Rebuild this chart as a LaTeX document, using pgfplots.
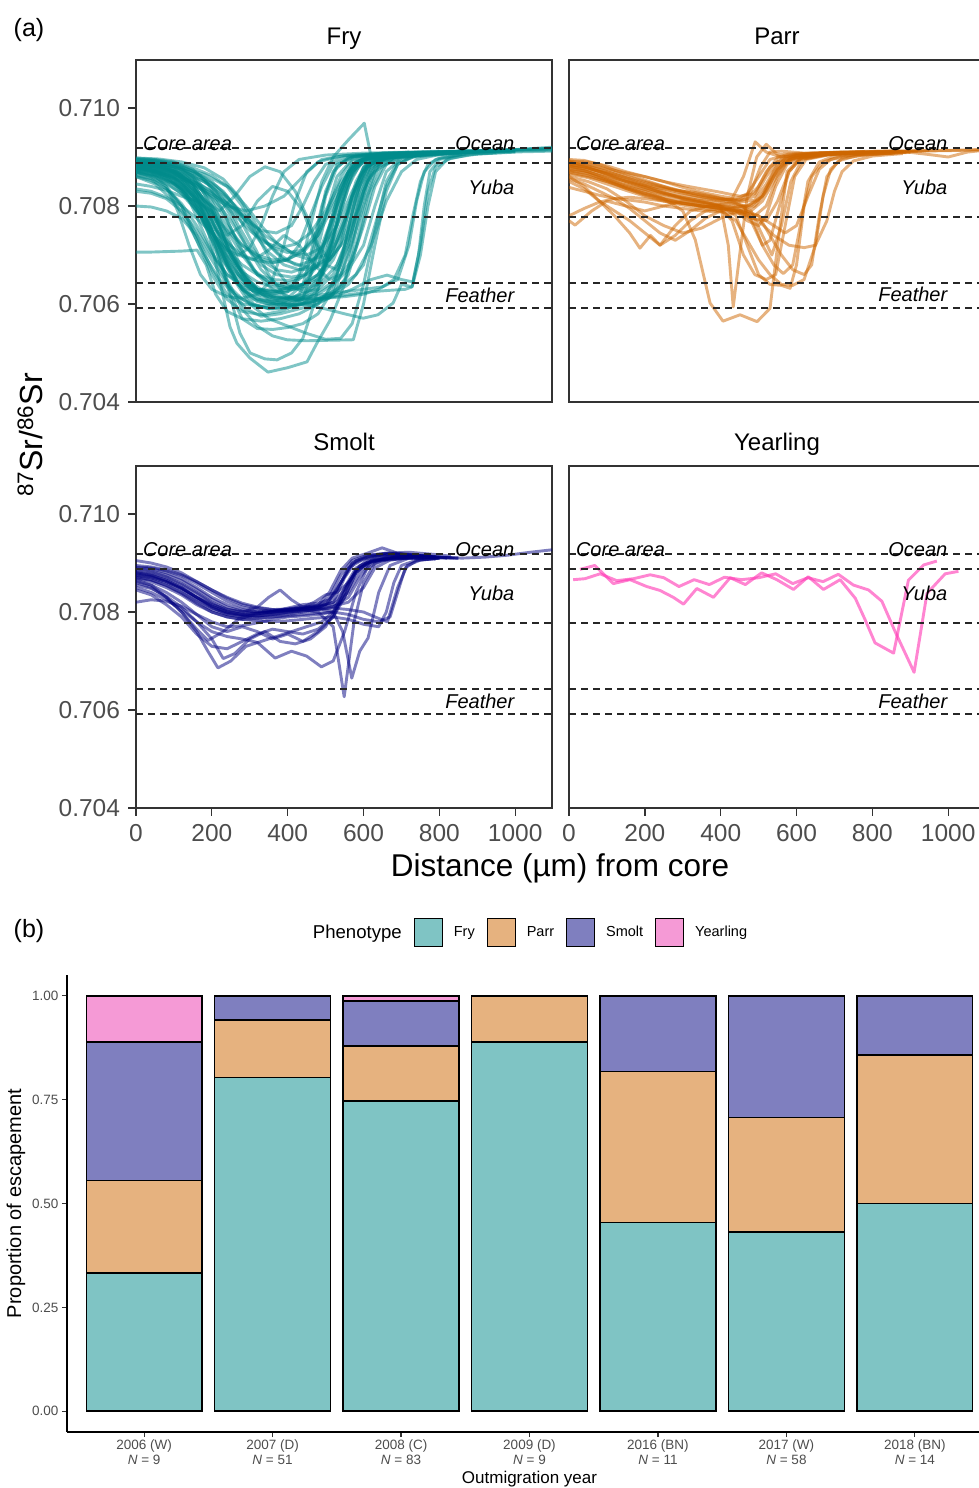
\documentclass[border=0pt]{standalone}
\usepackage{fontspec}
\setmainfont{Liberation Sans}
\usepackage{pgfplots}
\pgfplotsset{compat=1.18}

\definecolor{frycol}{HTML}{008B8B}
\definecolor{parrcol}{HTML}{CD6600}
\definecolor{smoltcol}{HTML}{000080}
\definecolor{yearcol}{HTML}{FF34B3}
\definecolor{fryfill}{HTML}{7FC4C4}
\definecolor{parrfill}{HTML}{E6B27F}
\definecolor{smoltfill}{HTML}{7F7FBF}
\definecolor{yearfill}{HTML}{F59AD6}
\definecolor{grey30}{HTML}{4D4D4D}
\definecolor{grey20}{HTML}{333333}

\newcommand\fs[1]{\fontsize{#1}{#1}\selectfont}

\pgfplotsset{
  srpanel/.style={
    scale only axis, width=416pt, height=342pt,
    xmin=0, xmax=1097, ymin=0.704, ymax=0.71098,
    axis line style={grey20, line width=1.3pt},
    tick style={grey20, line width=1.3pt},
    major tick length=7.5pt, tick align=outside,
    xtick pos=bottom, ytick pos=left,
    ytick={0.704,0.706,0.708,0.710},
    yticklabels={0.704,0.706,0.708,0.710},
    xtick={0,200,400,600,800,1000},
    xticklabels={0,200,400,600,800,1000},
    ticklabel style={font=\fs{24.5}, text=grey30},
    yticklabel style={xshift=-5pt},
    xticklabel style={yshift=-5pt},
    title style={font=\fs{24}, anchor=base, at={(0.5,1)}, yshift=10pt},
    clip mode=individual,
  },
  notopx/.style={xtick=\empty},
  noy/.style={ytick=\empty},
  refl/.style={black!85, line width=1.5pt, dash pattern=on 7pt off 5pt},
  fryln/.style={frycol, line width=2.9pt, opacity=0.5, line join=round},
  parrln/.style={parrcol, line width=2.9pt, opacity=0.5, line join=round},
  smoltln/.style={smoltcol, line width=2.9pt, opacity=0.5, line join=round},
  yearln/.style={yearcol, line width=2.9pt, opacity=0.6, line join=round},
  keybox/.style={legend image code/.code={\draw[##1, line width=1pt] (0pt,-14pt) rectangle (28pt,14pt);}},
}

% reference isotope bands and their labels
\newcommand\refs{%
  \addplot[refl] coordinates {(0,0.70918)(1097,0.70918)};
  \addplot[refl] coordinates {(0,0.70888)(1097,0.70888)};
  \addplot[refl] coordinates {(0,0.70778)(1097,0.70778)};
  \addplot[refl] coordinates {(0,0.70643)(1097,0.70643)};
  \addplot[refl] coordinates {(0,0.70592)(1097,0.70592)};
  \node[anchor=base west, inner sep=0pt, font=\fs{20}\itshape] at (axis cs:18,0.70914) {Core area};
  \node[anchor=base east, inner sep=0pt, font=\fs{20}\itshape] at (axis cs:998,0.70914) {Ocean};
  \node[anchor=base east, inner sep=0pt, font=\fs{20}\itshape] at (axis cs:998,0.708245) {Yuba};
  \node[anchor=base east, inner sep=0pt, font=\fs{20}\itshape] at (axis cs:998,0.706041) {Feather};
}

\begin{document}
\begin{tikzpicture}
\path[use as bounding box] (0,0) rectangle (979pt,-1488pt);

% ---------------- Fry ----------------
\begin{axis}[srpanel, notopx, at={(136pt,-402pt)}, anchor=south west, title={Fry}]
\addplot[fryln] coordinates {(0,.70890)(40,.70888)(80,.70880)(120,.70862)(160,.70820)(200,.70750)(240,.70680)(280,.70630)(320,.70610)(360,.70605)(400,.70612)(440,.70640)(470,.70720)(500,.70830)(530,.70885)(580,.70902)(650,.70908)(750,.70910)(850,.70912)(950,.70914)(1050,.70915)(1097,.70916)};
\addplot[fryln] coordinates {(0,.70885)(50,.70880)(100,.70868)(150,.70840)(190,.70790)(230,.70710)(270,.70640)(310,.70600)(350,.70590)(400,.70595)(450,.70600)(500,.70615)(540,.70680)(570,.70790)(600,.70870)(640,.70900)(720,.70908)(820,.70910)(920,.70912)};
\addplot[fryln] coordinates {(0,.70878)(40,.70872)(90,.70858)(130,.70830)(170,.70760)(210,.70690)(250,.70630)(290,.70590)(330,.70575)(380,.70580)(430,.70590)(480,.70600)(520,.70620)(560,.70700)(600,.70800)(630,.70870)(680,.70898)(760,.70905)(860,.70910)(980,.70912)(1097,.70914)};
\addplot[fryln] coordinates {(0,.70895)(50,.70893)(100,.70885)(150,.70860)(200,.70800)(240,.70720)(280,.70660)(320,.70630)(370,.70625)(420,.70640)(460,.70700)(490,.70800)(520,.70870)(560,.70900)(620,.70906)(720,.70910)(800,.70912)};
\addplot[fryln] coordinates {(0,.70870)(40,.70860)(80,.70840)(120,.70800)(160,.70730)(200,.70660)(240,.70610)(280,.70585)(330,.70578)(380,.70585)(430,.70600)(480,.70610)(530,.70630)(580,.70660)(620,.70720)(660,.70810)(700,.70870)(740,.70895)(800,.70905)(900,.70910)(1000,.70912)};
\addplot[fryln] coordinates {(0,.70880)(50,.70875)(100,.70860)(150,.70820)(190,.70750)(220,.70650)(248,.70553)(266,.70520)(300,.70490)(348,.70461)(400,.70470)(451,.70482)(477,.70520)(512,.70567)(550,.70640)(580,.70750)(610,.70850)(650,.70895)(720,.70905)(820,.70908)(950,.70912)};
\addplot[fryln] coordinates {(0,.70886)(60,.70880)(110,.70865)(160,.70820)(200,.70740)(240,.70640)(274,.70541)(301,.70500)(340,.70488)(372,.70486)(410,.70500)(440,.70530)(470,.70600)(500,.70700)(530,.70800)(560,.70870)(600,.70898)(680,.70906)(780,.70910)};
\addplot[fryln] coordinates {(0,.70706)(40,.70706)(80,.70707)(120,.70708)(161,.70710)(185,.70680)(210,.70620)(240,.70585)(280,.70570)(330,.70565)(380,.70570)(430,.70580)(480,.70600)(520,.70640)(560,.70720)(590,.70820)(620,.70880)(660,.70900)(740,.70906)(850,.70910)};
\addplot[fryln] coordinates {(0,.70875)(50,.70868)(100,.70850)(150,.70810)(200,.70730)(240,.70650)(280,.70590)(320,.70555)(360,.70535)(398,.70527)(450,.70525)(510,.70526)(573,.70527)(600,.70600)(630,.70720)(660,.70830)(690,.70885)(730,.70902)(820,.70908)(920,.70911)};
\addplot[fryln] coordinates {(0,.70882)(50,.70876)(100,.70862)(150,.70830)(200,.70770)(250,.70700)(300,.70640)(350,.70610)(400,.70600)(450,.70598)(500,.70590)(550,.70580)(599,.70571)(638,.70578)(678,.70602)(700,.70640)(728,.70635)(750,.70700)(770,.70800)(790,.70870)(820,.70895)(880,.70905)(980,.70910)(1097,.70912)};
\addplot[fryln] coordinates {(0,.70868)(60,.70860)(120,.70835)(170,.70780)(220,.70700)(270,.70640)(320,.70610)(370,.70600)(420,.70598)(470,.70605)(520,.70615)(570,.70630)(620,.70650)(662,.70659)(700,.70650)(730,.70645)(750,.70720)(770,.70830)(790,.70880)(830,.70898)(900,.70906)(1000,.70910)};
\addplot[fryln] coordinates {(0,.70888)(40,.70885)(80,.70878)(130,.70850)(180,.70810)(220,.70790)(260,.70820)(300,.70860)(340,.70880)(380,.70870)(420,.70830)(450,.70780)(480,.70720)(510,.70690)(540,.70720)(570,.70820)(600,.70880)(640,.70900)(720,.70906)(830,.70910)(950,.70912)};
\addplot[fryln] coordinates {(0,.70890)(50,.70886)(100,.70875)(150,.70845)(200,.70790)(240,.70720)(280,.70660)(320,.70630)(360,.70620)(400,.70625)(430,.70660)(460,.70760)(490,.70850)(520,.70900)(560,.70935)(602,.70969)(620,.70900)(650,.70895)(700,.70905)(800,.70910)(900,.70912)};
\addplot[fryln] coordinates {(0,.70885)(60,.70878)(120,.70860)(180,.70830)(240,.70800)(290,.70790)(340,.70800)(390,.70820)(440,.70860)(480,.70890)(540,.70902)(620,.70906)(720,.70908)(820,.70910)};
\addplot[fryln] coordinates {(0,.70860)(50,.70845)(100,.70810)(140,.70760)(180,.70700)(220,.70650)(260,.70620)(300,.70600)(350,.70592)(400,.70595)(440,.70610)(470,.70680)(500,.70780)(530,.70860)(570,.70895)(640,.70905)(760,.70910)(900,.70913)(1097,.70918)};
\addplot[fryln] coordinates {(0,.70880)(40,.70876)(80,.70868)(120,.70850)(160,.70810)(200,.70750)(240,.70690)(280,.70650)(320,.70630)(360,.70625)(400,.70628)(440,.70635)(480,.70650)(520,.70690)(560,.70760)(590,.70840)(620,.70885)(670,.70900)(760,.70908)(880,.70911)};
\addplot[fryln] coordinates {(0,.70892)(50,.70890)(100,.70880)(140,.70855)(180,.70800)(220,.70700)(250,.70620)(280,.70570)(320,.70550)(360,.70548)(400,.70552)(440,.70560)(480,.70580)(520,.70630)(550,.70720)(580,.70820)(610,.70880)(650,.70900)(730,.70907)(830,.70910)};
\addplot[fryln] coordinates {(0,.70876)(50,.70870)(100,.70855)(150,.70820)(190,.70770)(230,.70700)(270,.70640)(310,.70610)(350,.70600)(390,.70605)(430,.70620)(460,.70660)(480,.70740)(500,.70820)(530,.70880)(570,.70900)(650,.70906)(750,.70909)};
\addplot[fryln] coordinates {(0,.70865)(40,.70855)(80,.70835)(120,.70800)(160,.70740)(200,.70670)(240,.70620)(280,.70600)(330,.70595)(380,.70600)(430,.70610)(480,.70625)(530,.70650)(570,.70690)(600,.70760)(630,.70840)(660,.70885)(700,.70900)(780,.70906)(880,.70909)};
\addplot[fryln] coordinates {(0,.70898)(50,.70895)(100,.70890)(150,.70875)(190,.70845)(230,.70790)(270,.70720)(310,.70670)(350,.70645)(390,.70640)(430,.70650)(470,.70680)(510,.70760)(540,.70840)(570,.70885)(610,.70900)(680,.70906)(780,.70910)(880,.70912)(1000,.70914)};
\addplot[fryln] coordinates {(0,.70880)(60,.70872)(120,.70850)(170,.70800)(210,.70730)(250,.70670)(300,.70630)(350,.70615)(400,.70612)(450,.70615)(500,.70620)(550,.70625)(600,.70630)(650,.70635)(690,.70650)(720,.70720)(740,.70810)(760,.70870)(790,.70895)(850,.70905)(950,.70909)};
\addplot[fryln] coordinates {(0,.70872)(50,.70864)(100,.70846)(150,.70810)(200,.70750)(240,.70680)(280,.70630)(320,.70605)(360,.70598)(400,.70600)(440,.70610)(480,.70620)(520,.70640)(560,.70670)(600,.70720)(630,.70800)(660,.70870)(700,.70898)(760,.70905)};
\addplot[fryln] coordinates {(0,.70885)(40,.70870)(80,.70840)(110,.70790)(140,.70720)(170,.70660)(200,.70630)(240,.70615)(280,.70612)(320,.70620)(360,.70650)(390,.70720)(420,.70810)(450,.70870)(490,.70895)(560,.70904)(660,.70908)(760,.70910)};
\addplot[fryln] coordinates {(0,.70890)(60,.70886)(120,.70874)(170,.70840)(210,.70780)(250,.70700)(290,.70640)(330,.70610)(370,.70600)(410,.70598)(450,.70602)(490,.70610)(530,.70625)(560,.70660)(590,.70740)(620,.70830)(650,.70880)(690,.70898)(770,.70905)(870,.70909)(1000,.70912)};
\addplot[fryln] coordinates {(0,.70800)(40,.70798)(80,.70790)(120,.70775)(160,.70740)(200,.70690)(240,.70640)(280,.70610)(320,.70595)(360,.70590)(400,.70592)(440,.70600)(480,.70630)(510,.70700)(540,.70800)(570,.70870)(610,.70896)(680,.70904)(780,.70908)};
\addplot[fryln] coordinates {(0,.70830)(40,.70826)(80,.70815)(120,.70790)(160,.70750)(200,.70700)(240,.70660)(280,.70640)(320,.70630)(370,.70628)(420,.70635)(470,.70650)(510,.70690)(550,.70770)(580,.70850)(610,.70890)(660,.70902)(750,.70907)};
\addplot[fryln] coordinates {(0,.70886)(50,.70882)(100,.70872)(150,.70845)(200,.70790)(250,.70710)(290,.70650)(330,.70620)(370,.70610)(410,.70612)(450,.70625)(490,.70660)(520,.70740)(550,.70830)(580,.70885)(620,.70900)(700,.70906)(800,.70910)(900,.70912)(1000,.70915)(1097,.70920)};
\addplot[fryln] coordinates {(0,.70878)(50,.70872)(100,.70858)(150,.70825)(200,.70770)(250,.70700)(300,.70645)(350,.70620)(400,.70612)(450,.70610)(500,.70612)(550,.70615)(600,.70620)(640,.70630)(680,.70650)(710,.70700)(730,.70780)(750,.70850)(770,.70885)(800,.70898)(870,.70906)};
\addplot[fryln] coordinates {(0,.70895)(40,.70893)(80,.70888)(120,.70878)(160,.70855)(200,.70810)(240,.70740)(280,.70670)(320,.70630)(360,.70615)(400,.70612)(440,.70618)(480,.70640)(510,.70700)(540,.70790)(570,.70860)(600,.70893)(650,.70903)(750,.70908)(860,.70911)};
\addplot[fryln] coordinates {(0,.70870)(60,.70862)(120,.70840)(170,.70795)(220,.70720)(270,.70660)(320,.70625)(370,.70612)(420,.70608)(470,.70610)(520,.70615)(570,.70620)(620,.70625)(670,.70628)(710,.70630)(728,.70635)(745,.70700)(760,.70800)(775,.70870)(800,.70895)(860,.70905)};
\addplot[fryln] coordinates {(0,.70880)(50,.70872)(100,.70855)(150,.70825)(200,.70780)(240,.70740)(280,.70760)(320,.70810)(360,.70840)(400,.70830)(440,.70790)(470,.70730)(500,.70680)(530,.70670)(560,.70720)(590,.70810)(620,.70875)(660,.70898)(740,.70905)(840,.70909)};
\addplot[fryln] coordinates {(0,.70888)(50,.70884)(100,.70872)(150,.70845)(190,.70800)(230,.70740)(270,.70700)(310,.70690)(350,.70710)(390,.70740)(430,.70720)(470,.70680)(510,.70650)(540,.70660)(570,.70730)(600,.70830)(630,.70885)(670,.70900)(760,.70906)};
\addplot[fryln] coordinates {(0,.70860)(40,.70852)(80,.70835)(120,.70805)(160,.70760)(200,.70705)(240,.70660)(280,.70635)(320,.70625)(360,.70622)(400,.70625)(440,.70640)(480,.70680)(510,.70760)(540,.70840)(570,.70885)(610,.70900)(690,.70906)(790,.70909)};
\addplot[fryln] coordinates {(0,.70892)(60,.70890)(120,.70882)(170,.70862)(210,.70830)(250,.70780)(290,.70720)(330,.70670)(370,.70640)(410,.70630)(450,.70632)(490,.70645)(530,.70680)(570,.70750)(600,.70830)(630,.70880)(670,.70898)(740,.70905)(840,.70909)(960,.70912)};
\addplot[fryln] coordinates {(0,.70874)(50,.70866)(100,.70848)(150,.70810)(200,.70740)(250,.70660)(300,.70600)(350,.70570)(400,.70555)(450,.70540)(500,.70528)(540,.70530)(570,.70560)(600,.70640)(630,.70750)(660,.70850)(690,.70890)(740,.70902)(840,.70908)};
\addplot[fryln] coordinates {(0,.70884)(50,.70880)(100,.70868)(150,.70840)(190,.70790)(230,.70720)(270,.70660)(310,.70625)(350,.70610)(390,.70605)(430,.70610)(470,.70630)(500,.70680)(530,.70770)(560,.70850)(590,.70890)(640,.70903)(740,.70908)(850,.70911)(950,.70913)(1050,.70916)(1097,.70918)};
\addplot[fryln] coordinates {(0,.70888)(60,.70885)(120,.70878)(180,.70865)(240,.70840)(280,.70800)(320,.70740)(360,.70680)(400,.70640)(440,.70625)(480,.70630)(520,.70660)(560,.70740)(590,.70830)(620,.70885)(660,.70900)(760,.70907)(860,.70910)};
\addplot[fryln] coordinates {(0,.70882)(60,.70878)(120,.70868)(180,.70850)(230,.70820)(270,.70780)(310,.70720)(350,.70660)(390,.70620)(430,.70605)(470,.70600)(510,.70612)(550,.70650)(580,.70720)(610,.70820)(640,.70880)(680,.70899)(780,.70906)};
\addplot[fryln] coordinates {(0,.70876)(50,.70870)(100,.70860)(150,.70845)(200,.70825)(250,.70800)(300,.70770)(340,.70740)(380,.70720)(420,.70700)(460,.70690)(500,.70700)(530,.70760)(560,.70840)(590,.70885)(640,.70902)(740,.70907)};
\addplot[fryln] coordinates {(0,.70890)(50,.70887)(100,.70880)(150,.70866)(200,.70845)(250,.70810)(300,.70770)(340,.70730)(380,.70700)(420,.70680)(460,.70675)(500,.70690)(540,.70740)(570,.70820)(600,.70878)(640,.70898)(720,.70905)(820,.70909)};
\addplot[fryln] coordinates {(0,.70835)(40,.70830)(80,.70818)(120,.70800)(160,.70775)(200,.70745)(240,.70710)(280,.70680)(320,.70660)(360,.70650)(400,.70648)(440,.70655)(480,.70680)(510,.70740)(540,.70820)(570,.70880)(610,.70898)(700,.70905)};
\addplot[fryln] coordinates {(0,.70870)(40,.70862)(80,.70848)(120,.70825)(160,.70790)(200,.70745)(240,.70700)(280,.70665)(320,.70645)(360,.70635)(400,.70632)(440,.70640)(480,.70660)(520,.70700)(550,.70760)(580,.70830)(610,.70880)(650,.70898)(740,.70905)(860,.70909)};
\addplot[fryln] coordinates {(0,.70898)(60,.70896)(120,.70890)(180,.70878)(230,.70855)(270,.70820)(310,.70770)(350,.70720)(390,.70690)(430,.70680)(470,.70690)(500,.70730)(530,.70800)(560,.70860)(590,.70893)(640,.70903)(740,.70908)(860,.70911)(1000,.70914)};
\addplot[fryln] coordinates {(0,.70880)(50,.70876)(100,.70866)(150,.70848)(200,.70815)(240,.70770)(280,.70710)(320,.70660)(360,.70630)(400,.70615)(440,.70610)(480,.70612)(520,.70620)(560,.70640)(600,.70680)(630,.70760)(660,.70840)(690,.70885)(730,.70900)(820,.70906)};
\addplot[fryln] coordinates {(0,.70887)(50,.70884)(100,.70876)(150,.70862)(200,.70840)(240,.70805)(270,.70760)(300,.70720)(330,.70690)(370,.70670)(410,.70665)(450,.70675)(490,.70710)(520,.70780)(550,.70850)(580,.70890)(630,.70902)(720,.70907)};
\addplot[fryln] coordinates {(0,.70878)(50,.70873)(100,.70864)(150,.70850)(200,.70830)(250,.70800)(290,.70770)(330,.70750)(370,.70745)(410,.70760)(440,.70800)(470,.70850)(500,.70885)(550,.70900)(650,.70906)(760,.70909)};
\addplot[fryln] coordinates {(0,.70893)(50,.70890)(100,.70884)(150,.70872)(200,.70850)(240,.70820)(280,.70780)(320,.70740)(360,.70715)(400,.70705)(440,.70710)(480,.70740)(510,.70800)(540,.70860)(570,.70893)(630,.70903)(740,.70908)(870,.70911)};
\addplot[fryln] coordinates {(0,.70868)(50,.70860)(100,.70845)(150,.70820)(200,.70785)(240,.70750)(280,.70720)(320,.70700)(360,.70690)(400,.70692)(440,.70705)(480,.70740)(520,.70800)(560,.70860)(600,.70893)(660,.70903)(760,.70908)};
\addplot[fryln] coordinates {(0,.70884)(50,.70880)(100,.70870)(150,.70852)(200,.70820)(250,.70770)(290,.70720)(330,.70680)(370,.70660)(410,.70655)(450,.70660)(490,.70685)(530,.70740)(570,.70820)(610,.70880)(650,.70898)(740,.70906)(850,.70910)};
\addplot[fryln] coordinates {(0,.70880)(40,.70874)(80,.70860)(120,.70830)(160,.70790)(200,.70745)(240,.70710)(270,.70700)(300,.70715)(330,.70760)(360,.70820)(390,.70870)(430,.70895)(500,.70904)(600,.70908)(720,.70910)};
\addplot[fryln] coordinates {(0,.70890)(60,.70886)(120,.70876)(180,.70858)(230,.70830)(270,.70790)(310,.70745)(350,.70705)(390,.70680)(430,.70670)(470,.70672)(510,.70690)(550,.70730)(590,.70800)(620,.70860)(650,.70892)(700,.70902)(800,.70908)};
\addplot[fryln] coordinates {(0,.70874)(50,.70868)(100,.70856)(150,.70835)(200,.70800)(240,.70760)(280,.70720)(320,.70695)(360,.70685)(400,.70690)(430,.70720)(460,.70780)(490,.70840)(520,.70885)(570,.70900)(660,.70906)(780,.70909)};
\addplot[fryln] coordinates {(0,.70845)(40,.70840)(80,.70832)(120,.70820)(160,.70810)(200,.70790)(240,.70750)(280,.70700)(320,.70660)(360,.70640)(400,.70635)(440,.70640)(480,.70660)(520,.70710)(560,.70790)(590,.70860)(620,.70892)(680,.70902)(780,.70907)};
\addplot[fryln] coordinates {(0,.70896)(50,.70894)(100,.70888)(150,.70878)(200,.70862)(250,.70835)(290,.70800)(330,.70760)(370,.70725)(410,.70705)(450,.70700)(490,.70715)(530,.70760)(570,.70830)(610,.70885)(650,.70900)(750,.70907)(880,.70911)(1000,.70914)};
\addplot[fryln] coordinates {(0,.70862)(40,.70856)(80,.70845)(120,.70826)(160,.70798)(200,.70760)(240,.70725)(280,.70700)(320,.70688)(360,.70684)(400,.70690)(440,.70710)(480,.70750)(520,.70810)(560,.70868)(600,.70895)(680,.70904)(800,.70909)};
\addplot[fryln] coordinates {(0,.70886)(50,.70882)(100,.70872)(150,.70855)(200,.70828)(250,.70790)(300,.70750)(340,.70725)(380,.70715)(420,.70722)(460,.70745)(500,.70790)(540,.70850)(580,.70890)(630,.70902)(730,.70907)};
\refs
\end{axis}

% ---------------- Parr ----------------
\begin{axis}[srpanel, notopx, noy, at={(569pt,-402pt)}, anchor=south west, title={Parr}]
\addplot[parrln] coordinates {(0,.70890)(50,.70880)(100,.70870)(150,.70858)(200,.70848)(250,.70838)(300,.70830)(350,.70822)(400,.70815)(450,.70810)(490,.70820)(520,.70860)(550,.70890)(600,.70903)(700,.70908)(800,.70910)(900,.70912)(1000,.70913)(1097,.70915)};
\addplot[parrln] coordinates {(0,.70875)(40,.70872)(90,.70860)(140,.70845)(190,.70835)(240,.70825)(290,.70818)(340,.70812)(390,.70808)(440,.70805)(480,.70790)(510,.70740)(535,.70700)(560,.70760)(585,.70850)(615,.70895)(680,.70905)(780,.70909)(880,.70911)};
\addplot[parrln] coordinates {(0,.70882)(50,.70870)(100,.70855)(150,.70840)(200,.70830)(250,.70815)(300,.70790)(333,.70731)(372,.70602)(406,.70565)(451,.70578)(496,.70564)(530,.70591)(555,.70750)(575,.70870)(610,.70898)(680,.70906)(780,.70909)};
\addplot[parrln] coordinates {(0,.70868)(50,.70860)(100,.70850)(150,.70838)(200,.70826)(250,.70818)(300,.70810)(350,.70805)(400,.70800)(420,.70720)(433,.70594)(450,.70700)(470,.70820)(495,.70900)(520,.70926)(550,.70905)(620,.70907)(720,.70910)};
\addplot[parrln] coordinates {(0,.70770)(16,.70761)(60,.70790)(100,.70810)(150,.70800)(200,.70790)(250,.70800)(300,.70810)(350,.70800)(400,.70795)(450,.70790)(490,.70780)(520,.70800)(550,.70860)(580,.70895)(640,.70905)(740,.70909)};
\addplot[parrln] coordinates {(0,.70860)(40,.70840)(80,.70810)(120,.70780)(160,.70745)(187,.70714)(215,.70740)(240,.70720)(280,.70760)(320,.70790)(370,.70800)(420,.70805)(470,.70800)(510,.70820)(540,.70870)(570,.70898)(640,.70906)(750,.70909)};
\addplot[parrln] coordinates {(0,.70885)(50,.70878)(100,.70865)(150,.70850)(200,.70838)(250,.70826)(300,.70818)(350,.70810)(400,.70800)(440,.70780)(470,.70720)(500,.70660)(530,.70640)(560,.70638)(583,.70632)(600,.70680)(620,.70800)(640,.70860)(670,.70890)(720,.70902)(800,.70907)(900,.70910)};
\addplot[parrln] coordinates {(0,.70888)(50,.70884)(100,.70876)(150,.70868)(200,.70860)(250,.70850)(300,.70842)(350,.70835)(400,.70828)(450,.70820)(490,.70825)(520,.70870)(550,.70898)(600,.70906)(700,.70909)(800,.70911)(920,.70912)};
\addplot[parrln] coordinates {(0,.70872)(50,.70866)(100,.70852)(150,.70836)(200,.70822)(250,.70812)(300,.70805)(350,.70800)(400,.70795)(430,.70770)(460,.70700)(490,.70660)(520,.70650)(545,.70660)(570,.70760)(595,.70860)(625,.70895)(690,.70905)(790,.70909)};
\addplot[parrln] coordinates {(0,.70895)(40,.70893)(80,.70885)(130,.70870)(180,.70858)(230,.70845)(280,.70832)(330,.70822)(380,.70815)(430,.70812)(470,.70815)(500,.70840)(530,.70880)(570,.70900)(640,.70906)(740,.70909)(840,.70911)(960,.70913)(1097,.70915)};
\addplot[parrln] coordinates {(0,.70850)(40,.70835)(80,.70810)(120,.70790)(160,.70770)(200,.70745)(240,.70720)(280,.70740)(320,.70770)(360,.70790)(400,.70795)(440,.70790)(480,.70775)(520,.70770)(550,.70810)(580,.70870)(610,.70895)(680,.70904)(780,.70908)};
\addplot[parrln] coordinates {(0,.70878)(50,.70870)(100,.70858)(150,.70845)(200,.70834)(250,.70824)(300,.70815)(350,.70808)(400,.70802)(450,.70795)(500,.70780)(530,.70740)(560,.70700)(590,.70670)(620,.70660)(640,.70680)(660,.70780)(680,.70860)(710,.70892)(760,.70903)(860,.70908)};
\addplot[parrln] coordinates {(0,.70892)(50,.70886)(100,.70875)(150,.70862)(200,.70850)(250,.70840)(300,.70830)(350,.70822)(400,.70815)(450,.70812)(480,.70830)(505,.70880)(530,.70910)(560,.70912)(620,.70908)(720,.70910)(820,.70911)};
\addplot[parrln] coordinates {(0,.70865)(50,.70858)(100,.70845)(150,.70832)(200,.70820)(250,.70810)(300,.70802)(350,.70795)(400,.70790)(440,.70770)(470,.70730)(500,.70690)(530,.70660)(560,.70640)(590,.70638)(620,.70650)(650,.70720)(670,.70820)(690,.70875)(720,.70897)(790,.70905)(890,.70909)};
\addplot[parrln] coordinates {(0,.70880)(50,.70876)(100,.70868)(150,.70856)(200,.70842)(250,.70828)(300,.70815)(350,.70806)(400,.70800)(440,.70798)(470,.70800)(500,.70812)(530,.70850)(560,.70885)(600,.70900)(680,.70906)(780,.70909)};
\addplot[parrln] coordinates {(0,.70860)(50,.70850)(100,.70835)(150,.70810)(200,.70780)(250,.70760)(300,.70745)(350,.70755)(400,.70775)(450,.70790)(490,.70800)(520,.70830)(550,.70875)(590,.70898)(660,.70905)(760,.70909)};
\addplot[parrln] coordinates {(0,.70886)(40,.70880)(80,.70870)(130,.70855)(180,.70845)(230,.70838)(280,.70832)(330,.70828)(380,.70820)(420,.70812)(460,.70800)(490,.70760)(510,.70720)(530,.70730)(555,.70800)(580,.70870)(610,.70897)(680,.70905)(780,.70909)(880,.70911)};
\addplot[parrln] coordinates {(0,.70874)(50,.70866)(100,.70852)(150,.70838)(200,.70826)(250,.70815)(300,.70806)(350,.70800)(400,.70795)(450,.70790)(500,.70780)(540,.70760)(570,.70745)(600,.70760)(630,.70820)(660,.70875)(690,.70895)(750,.70904)(850,.70908)};
\addplot[parrln] coordinates {(0,.70890)(50,.70882)(100,.70870)(150,.70858)(200,.70845)(250,.70835)(300,.70826)(350,.70818)(400,.70812)(430,.70815)(460,.70860)(491,.70931)(520,.70910)(560,.70900)(620,.70905)(720,.70909)(820,.70911)(950,.70913)};
\addplot[parrln] coordinates {(0,.70838)(40,.70830)(80,.70822)(120,.70815)(160,.70812)(200,.70808)(250,.70800)(300,.70795)(350,.70790)(400,.70788)(450,.70785)(480,.70790)(510,.70810)(540,.70850)(570,.70888)(610,.70900)(680,.70906)};
\addplot[parrln] coordinates {(0,.70882)(50,.70874)(100,.70862)(150,.70850)(200,.70838)(250,.70826)(300,.70816)(350,.70808)(400,.70800)(450,.70792)(480,.70770)(510,.70720)(540,.70680)(565,.70662)(590,.70680)(610,.70760)(630,.70850)(660,.70890)(700,.70902)(790,.70907)(900,.70910)};
\addplot[parrln] coordinates {(0,.70884)(50,.70878)(100,.70866)(150,.70852)(200,.70840)(250,.70830)(300,.70822)(350,.70815)(400,.70810)(450,.70808)(490,.70812)(520,.70845)(550,.70885)(590,.70902)(660,.70908)(760,.70911)(860,.70913)(950,.70905)(1000,.70900)(1050,.70910)(1097,.70914)};
\addplot[parrln] coordinates {(0,.70855)(40,.70845)(80,.70830)(120,.70815)(160,.70795)(200,.70770)(240,.70745)(280,.70730)(320,.70750)(360,.70775)(400,.70790)(440,.70798)(480,.70800)(510,.70820)(540,.70860)(570,.70892)(620,.70903)(720,.70908)};
\addplot[parrln] coordinates {(0,.70870)(50,.70862)(100,.70850)(150,.70836)(200,.70824)(250,.70814)(300,.70806)(350,.70800)(400,.70795)(450,.70788)(500,.70770)(540,.70740)(580,.70720)(620,.70715)(650,.70720)(680,.70770)(700,.70830)(720,.70870)(750,.70892)(800,.70902)(880,.70907)};
\addplot[parrln] coordinates {(0,.70892)(50,.70890)(100,.70882)(150,.70870)(200,.70860)(250,.70850)(300,.70838)(350,.70828)(400,.70820)(440,.70815)(470,.70825)(500,.70860)(530,.70895)(580,.70906)(680,.70909)(780,.70911)};
\addplot[parrln] coordinates {(0,.70780)(40,.70795)(80,.70808)(120,.70815)(160,.70818)(200,.70815)(250,.70810)(300,.70805)(350,.70800)(400,.70798)(440,.70790)(470,.70770)(500,.70760)(520,.70780)(545,.70840)(575,.70885)(620,.70900)(700,.70906)};
\refs
\end{axis}

% ---------------- Smolt ----------------
\begin{axis}[srpanel, at={(136pt,-808pt)}, anchor=south west, title={Smolt}]
\addplot[smoltln] coordinates {(0,.70890)(40,.70888)(80,.70880)(120,.70868)(160,.70850)(200,.70830)(240,.70815)(280,.70805)(320,.70800)(360,.70802)(400,.70805)(440,.70808)(480,.70810)(520,.70820)(550,.70870)(580,.70905)(620,.70915)(680,.70918)(740,.70915)(800,.70912)(860,.70910)(920,.70912)(980,.70916)(1040,.70922)(1097,.70927)};
\addplot[smoltln] coordinates {(0,.70880)(40,.70876)(80,.70865)(120,.70850)(160,.70830)(200,.70810)(240,.70795)(280,.70790)(320,.70792)(360,.70796)(400,.70800)(440,.70805)(480,.70808)(510,.70820)(540,.70860)(570,.70900)(610,.70915)(660,.70920)(720,.70918)(780,.70912)};
\addplot[smoltln] coordinates {(0,.70860)(40,.70850)(80,.70830)(120,.70800)(160,.70760)(188,.70722)(216,.70686)(250,.70700)(290,.70730)(330,.70740)(370,.70750)(410,.70760)(450,.70770)(490,.70780)(520,.70800)(550,.70850)(580,.70890)(620,.70905)(680,.70912)(760,.70910)};
\addplot[smoltln] coordinates {(0,.70875)(40,.70872)(80,.70862)(120,.70848)(160,.70830)(200,.70812)(240,.70800)(280,.70795)(320,.70798)(360,.70800)(400,.70802)(440,.70805)(480,.70800)(520,.70770)(549,.70627)(575,.70780)(600,.70860)(630,.70900)(680,.70912)(750,.70912)(820,.70910)};
\addplot[smoltln] coordinates {(0,.70850)(40,.70840)(80,.70825)(120,.70805)(160,.70780)(200,.70760)(240,.70750)(280,.70745)(320,.70738)(367,.70706)(410,.70720)(450,.70710)(489,.70688)(520,.70700)(550,.70760)(580,.70840)(610,.70890)(650,.70905)(720,.70910)(790,.70908)};
\addplot[smoltln] coordinates {(0,.70885)(40,.70882)(80,.70872)(120,.70858)(160,.70840)(200,.70820)(240,.70806)(280,.70800)(320,.70798)(360,.70800)(400,.70803)(440,.70806)(480,.70808)(520,.70800)(545,.70760)(569,.70665)(590,.70720)(612,.70747)(640,.70840)(670,.70895)(720,.70910)(790,.70911)(850,.70910)};
\addplot[smoltln] coordinates {(0,.70892)(40,.70890)(80,.70884)(120,.70874)(160,.70858)(200,.70840)(240,.70822)(280,.70810)(320,.70804)(360,.70802)(400,.70804)(440,.70808)(480,.70815)(510,.70840)(540,.70885)(570,.70910)(610,.70920)(649,.70931)(690,.70920)(740,.70915)(800,.70912)};
\addplot[smoltln] coordinates {(0,.70868)(40,.70862)(80,.70850)(120,.70835)(160,.70815)(200,.70800)(240,.70790)(280,.70785)(320,.70786)(360,.70790)(400,.70795)(440,.70800)(480,.70805)(520,.70810)(560,.70830)(590,.70870)(620,.70900)(660,.70912)(720,.70914)(790,.70912)};
\addplot[smoltln] coordinates {(0,.70845)(40,.70835)(80,.70815)(120,.70790)(160,.70755)(200,.70730)(240,.70725)(280,.70740)(320,.70755)(360,.70765)(400,.70760)(440,.70755)(480,.70765)(520,.70790)(550,.70840)(580,.70885)(620,.70903)(680,.70910)(750,.70910)};
\addplot[smoltln] coordinates {(0,.70882)(40,.70878)(80,.70870)(120,.70856)(160,.70838)(200,.70818)(240,.70802)(280,.70795)(320,.70792)(360,.70795)(400,.70798)(440,.70802)(480,.70806)(520,.70812)(560,.70820)(600,.70850)(630,.70890)(670,.70906)(730,.70912)(800,.70911)(850,.70910)};
\addplot[smoltln] coordinates {(0,.70870)(40,.70865)(80,.70855)(120,.70840)(160,.70822)(200,.70805)(240,.70795)(280,.70790)(320,.70788)(360,.70790)(400,.70792)(440,.70795)(480,.70798)(520,.70800)(560,.70795)(600,.70785)(640,.70780)(670,.70790)(690,.70840)(710,.70890)(740,.70905)(800,.70910)};
\addplot[smoltln] coordinates {(0,.70862)(40,.70855)(80,.70840)(120,.70820)(160,.70795)(200,.70770)(240,.70760)(280,.70770)(320,.70760)(360,.70745)(400,.70755)(440,.70740)(480,.70760)(520,.70790)(550,.70830)(580,.70880)(610,.70900)(660,.70908)(730,.70910)};
\addplot[smoltln] coordinates {(0,.70888)(40,.70884)(80,.70876)(120,.70864)(160,.70846)(200,.70826)(240,.70810)(280,.70802)(320,.70800)(360,.70802)(400,.70808)(440,.70815)(480,.70818)(510,.70825)(540,.70860)(570,.70898)(610,.70912)(670,.70918)(740,.70916)(800,.70912)(840,.70910)};
\addplot[smoltln] coordinates {(0,.70820)(40,.70825)(80,.70822)(120,.70812)(160,.70795)(200,.70780)(240,.70770)(280,.70772)(320,.70778)(360,.70785)(400,.70790)(440,.70792)(480,.70795)(520,.70800)(550,.70830)(580,.70880)(610,.70902)(660,.70910)(730,.70912)};
\addplot[smoltln] coordinates {(0,.70878)(40,.70872)(80,.70862)(120,.70848)(160,.70830)(200,.70815)(240,.70805)(280,.70800)(320,.70810)(350,.70830)(380,.70845)(410,.70825)(440,.70810)(470,.70820)(500,.70835)(530,.70840)(560,.70860)(590,.70890)(630,.70905)(690,.70912)(760,.70912)};
\addplot[smoltln] coordinates {(0,.70855)(40,.70848)(80,.70832)(120,.70810)(160,.70780)(200,.70745)(230,.70705)(260,.70715)(300,.70745)(340,.70760)(380,.70740)(420,.70735)(460,.70745)(500,.70770)(530,.70810)(560,.70860)(590,.70895)(630,.70906)(700,.70910)};
\addplot[smoltln] coordinates {(0,.70895)(40,.70892)(80,.70886)(120,.70876)(160,.70862)(200,.70845)(240,.70828)(280,.70815)(320,.70808)(360,.70805)(400,.70806)(440,.70808)(480,.70812)(520,.70820)(550,.70845)(580,.70885)(610,.70908)(660,.70920)(720,.70922)(780,.70918)(830,.70914)};
\addplot[smoltln] coordinates {(0,.70872)(40,.70866)(80,.70854)(120,.70838)(160,.70818)(200,.70800)(240,.70790)(280,.70785)(320,.70782)(360,.70780)(400,.70782)(440,.70785)(480,.70788)(520,.70790)(560,.70785)(600,.70775)(640,.70770)(660,.70800)(680,.70860)(700,.70895)(740,.70906)(800,.70910)};
\addplot[smoltln] coordinates {(0,.70880)(40,.70875)(80,.70865)(120,.70850)(160,.70830)(200,.70812)(240,.70800)(280,.70795)(320,.70797)(360,.70800)(400,.70805)(440,.70808)(480,.70812)(510,.70830)(540,.70875)(570,.70905)(610,.70916)(660,.70920)(720,.70917)(780,.70913)};
\addplot[smoltln] coordinates {(0,.70866)(40,.70855)(80,.70830)(120,.70800)(160,.70765)(190,.70742)(230,.70760)(270,.70785)(310,.70795)(350,.70800)(390,.70805)(430,.70810)(470,.70812)(500,.70815)(530,.70845)(560,.70890)(600,.70908)(650,.70914)(720,.70913)};
\addplot[smoltln] coordinates {(0,.70905)(40,.70900)(80,.70892)(120,.70880)(160,.70862)(200,.70845)(240,.70830)(280,.70818)(320,.70810)(360,.70805)(400,.70803)(440,.70806)(480,.70810)(520,.70815)(560,.70840)(590,.70880)(620,.70905)(670,.70915)(730,.70916)(790,.70913)};
\addplot[smoltln] coordinates {(0,.70874)(40,.70870)(80,.70860)(120,.70845)(160,.70825)(200,.70808)(240,.70798)(280,.70793)(320,.70792)(360,.70795)(400,.70800)(440,.70802)(480,.70805)(520,.70808)(560,.70805)(600,.70800)(630,.70790)(663,.70780)(690,.70850)(715,.70895)(750,.70906)(800,.70910)};
\refs
\end{axis}

% ---------------- Yearling ----------------
\begin{axis}[srpanel, noy, at={(569pt,-808pt)}, anchor=south west, title={Yearling}]
\addplot[yearln] coordinates {(29,.70887)(68,.70895)(117,.70858)(161,.70866)(205,.70852)(240,.70844)(275,.70830)(302,.70816)(337,.70848)(381,.70830)(425,.70870)(465,.70856)(508,.70880)(548,.70866)(592,.70846)(631,.70872)(671,.70846)(715,.70866)(755,.70828)(781,.70784)(807,.70737)(856,.70716)(895,.70865)(935,.70896)(970,.70904)};
\addplot[yearln] coordinates {(11,.70866)(42,.70868)(82,.70878)(126,.70864)(170,.70868)(214,.70876)(250,.70870)(290,.70852)(330,.70866)(370,.70856)(410,.70871)(455,.70866)(500,.70870)(545,.70878)(590,.70858)(630,.70870)(670,.70862)(710,.70877)(750,.70855)(790,.70845)(825,.70822)(860,.70760)(910,.70677)(944,.70838)(992,.70878)(1027,.70883)};
\refs
\end{axis}

\node[font=\fs{25}] at (29pt,-30pt) {(a)};
\node[rotate=90, font=\fs{32}] at (30pt,-435pt) {\textsuperscript{87}Sr/\textsuperscript{86}Sr};
\node[font=\fs{31.5}] at (560pt,-868pt) {Distance (µm) from core};
\node[font=\fs{25}] at (29pt,-931pt) {(b)};

% ---------------- (b) stacked bars ----------------
\begin{axis}[
  at={(67pt,-1432pt)}, anchor=south west,
  scale only axis, width=925pt, height=457pt,
  xmin=0.4, xmax=7.6, ymin=-0.05, ymax=1.05,
  ybar stacked, bar width=0.9,
  axis lines*=left,
  axis line style={black, line width=1.3pt},
  tick style={grey20, line width=1.1pt},
  major tick length=5pt, tick align=outside,
  xtick={1,2,3,4,5,6,7},
  xticklabels={{2006 (W)\\\textit{N} = 9},{2007 (D)\\\textit{N} = 51},{2008 (C)\\\textit{N} = 83},{2009 (D)\\\textit{N} = 9},{2016 (BN)\\\textit{N} = 11},{2017 (W)\\\textit{N} = 58},{2018 (BN)\\\textit{N} = 14}},
  xticklabel style={align=center, font=\fontsize{13.5}{15}\selectfont, text=grey30, inner sep=2pt},
  ytick={0,0.25,0.5,0.75,1},
  yticklabels={0.00,0.25,0.50,0.75,1.00},
  yticklabel style={font=\fs{13.5}, text=grey30},
  xlabel={Outmigration year},
  ylabel={Proportion of escapement},
  xlabel style={font=\fs{17}, inner sep=1pt, yshift=-4pt},
  ylabel style={font=\fs{20}},
  legend columns=-1,
  legend style={draw=none, fill=none, at={(0.4946,1.094)}, anchor=center, font=\fs{14.5},
    nodes={inner sep=0pt},
    /tikz/every odd column/.append style={column sep=11pt},
    /tikz/every even column/.append style={column sep=12pt}},
]
\addlegendimage{empty legend}
\addlegendentry{\fs{18.6}Phenotype}
\addplot[fill=fryfill, draw=black, line width=1.5pt, keybox] coordinates {(1,0.3333)(2,0.8039)(3,0.7470)(4,0.8889)(5,0.4545)(6,0.4310)(7,0.5000)};
\addlegendentry{Fry}
\addplot[fill=parrfill, draw=black, line width=1.5pt, keybox] coordinates {(1,0.2222)(2,0.1373)(3,0.1325)(4,0.1111)(5,0.3636)(6,0.2759)(7,0.3571)};
\addlegendentry{Parr}
\addplot[fill=smoltfill, draw=black, line width=1.5pt, keybox] coordinates {(1,0.3333)(2,0.0588)(3,0.1084)(4,0)(5,0.1818)(6,0.2931)(7,0.1429)};
\addlegendentry{Smolt}
\addplot[fill=yearfill, draw=black, line width=1.5pt, keybox] coordinates {(1,0.1111)(2,0)(3,0.0120)(4,0)(5,0)(6,0)(7,0)};
\addlegendentry{Yearling}
\end{axis}
\end{tikzpicture}
\end{document}
